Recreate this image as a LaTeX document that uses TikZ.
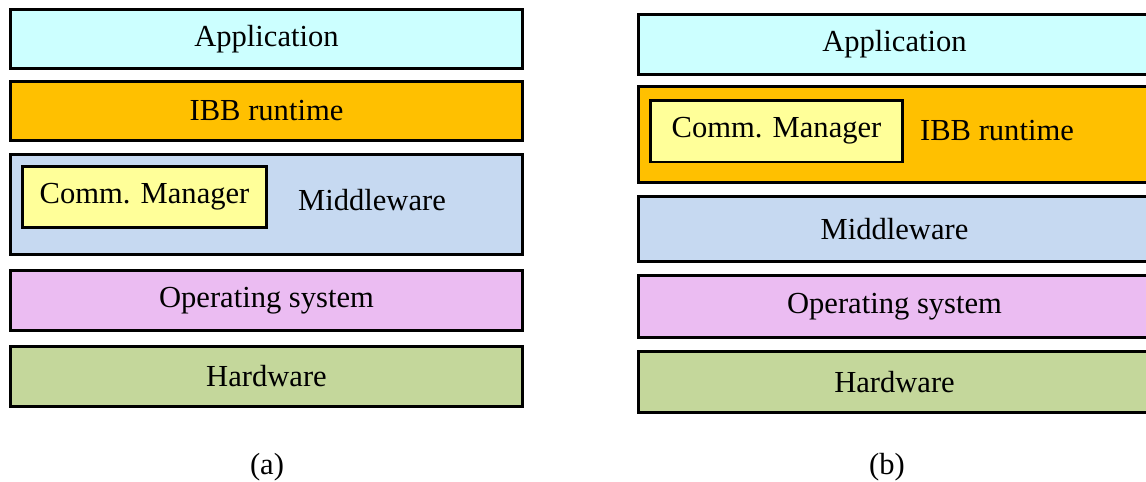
\documentclass[tikz,border=0pt]{standalone}
\usepackage{fontspec}
\setmainfont{Liberation Serif}
\usepackage{xcolor}
\usepackage{tikz}
\definecolor{appcyan}{RGB}{204, 255, 255}
\definecolor{ibborange}{RGB}{255, 192, 0}
\definecolor{mwblue}{RGB}{198, 217, 241}
\definecolor{osviolet}{RGB}{235, 188, 242}
\definecolor{hwgreen}{RGB}{196, 215, 155}
\definecolor{cmyellow}{RGB}{255, 255, 153}

\tikzset{
	layer/.style={draw=black, line width=1.7pt, inner sep=0pt, minimum width=10.24cm},
	inlayer/.style={draw=black, line width=1.7pt, inner sep=0pt},
	caption/.style={inner sep=0pt}
}

\begin{document}
\begin{tikzpicture}[x=0.02cm, y=-0.02cm, font=\fontsize{17.4}{20}\selectfont]
			\useasboundingbox (0, 0) rectangle (1146, 481);
			
			% STACK (a)
			\node[layer, fill=appcyan, minimum height=1.18cm] (appA) at (266.5, 39) {Application};
			\node[layer, fill=ibborange, minimum height=1.18cm] (ibbA) at (266.5, 111) {IBB runtime};
			\node[layer, fill=mwblue, minimum height=2cm] (mwA) at (266.5, 204.5) {};
			\node[inlayer, fill=cmyellow, minimum width=4.88cm, minimum height=1.22cm] (cmA) at (144.5, 197) {Comm. Manager};
			\node[caption] (mwtextA) at (372, 200) {Middleware};
			\node[layer, fill=osviolet, minimum height=1.2cm] (osA) at (266.5, 300.5) {Operating system};
			\node[layer, fill=hwgreen, minimum height=1.2cm] (hwA) at (266.5, 376.5) {Hardware};
			\node[caption] (capA) at (267, 467) {(a)};
			
			% STACK (b)
			\node[layer, fill=appcyan, minimum height=1.2cm] (appB) at (894.5, 44.5) {Application};
			\node[layer, fill=ibborange, minimum height=1.92cm] (ibbB) at (894.5, 134.5) {};
			\node[inlayer, fill=cmyellow, minimum width=5.06cm, minimum height=1.24cm] (cmB) at (776.5, 131) {Comm. Manager};
			\node[caption] (ibbtextB) at (997, 131) {IBB runtime};
			\node[layer, fill=mwblue, minimum height=1.3cm] (mwB) at (894.5, 229) {Middleware};
			\node[layer, fill=osviolet, minimum height=1.24cm] (osB) at (894.5, 306.5) {Operating system};
			\node[layer, fill=hwgreen, minimum height=1.22cm] (hwB) at (894.5, 382) {Hardware};
			\node[caption] (capB) at (887, 467) {(b)};
			
		\end{tikzpicture}
\end{document}
